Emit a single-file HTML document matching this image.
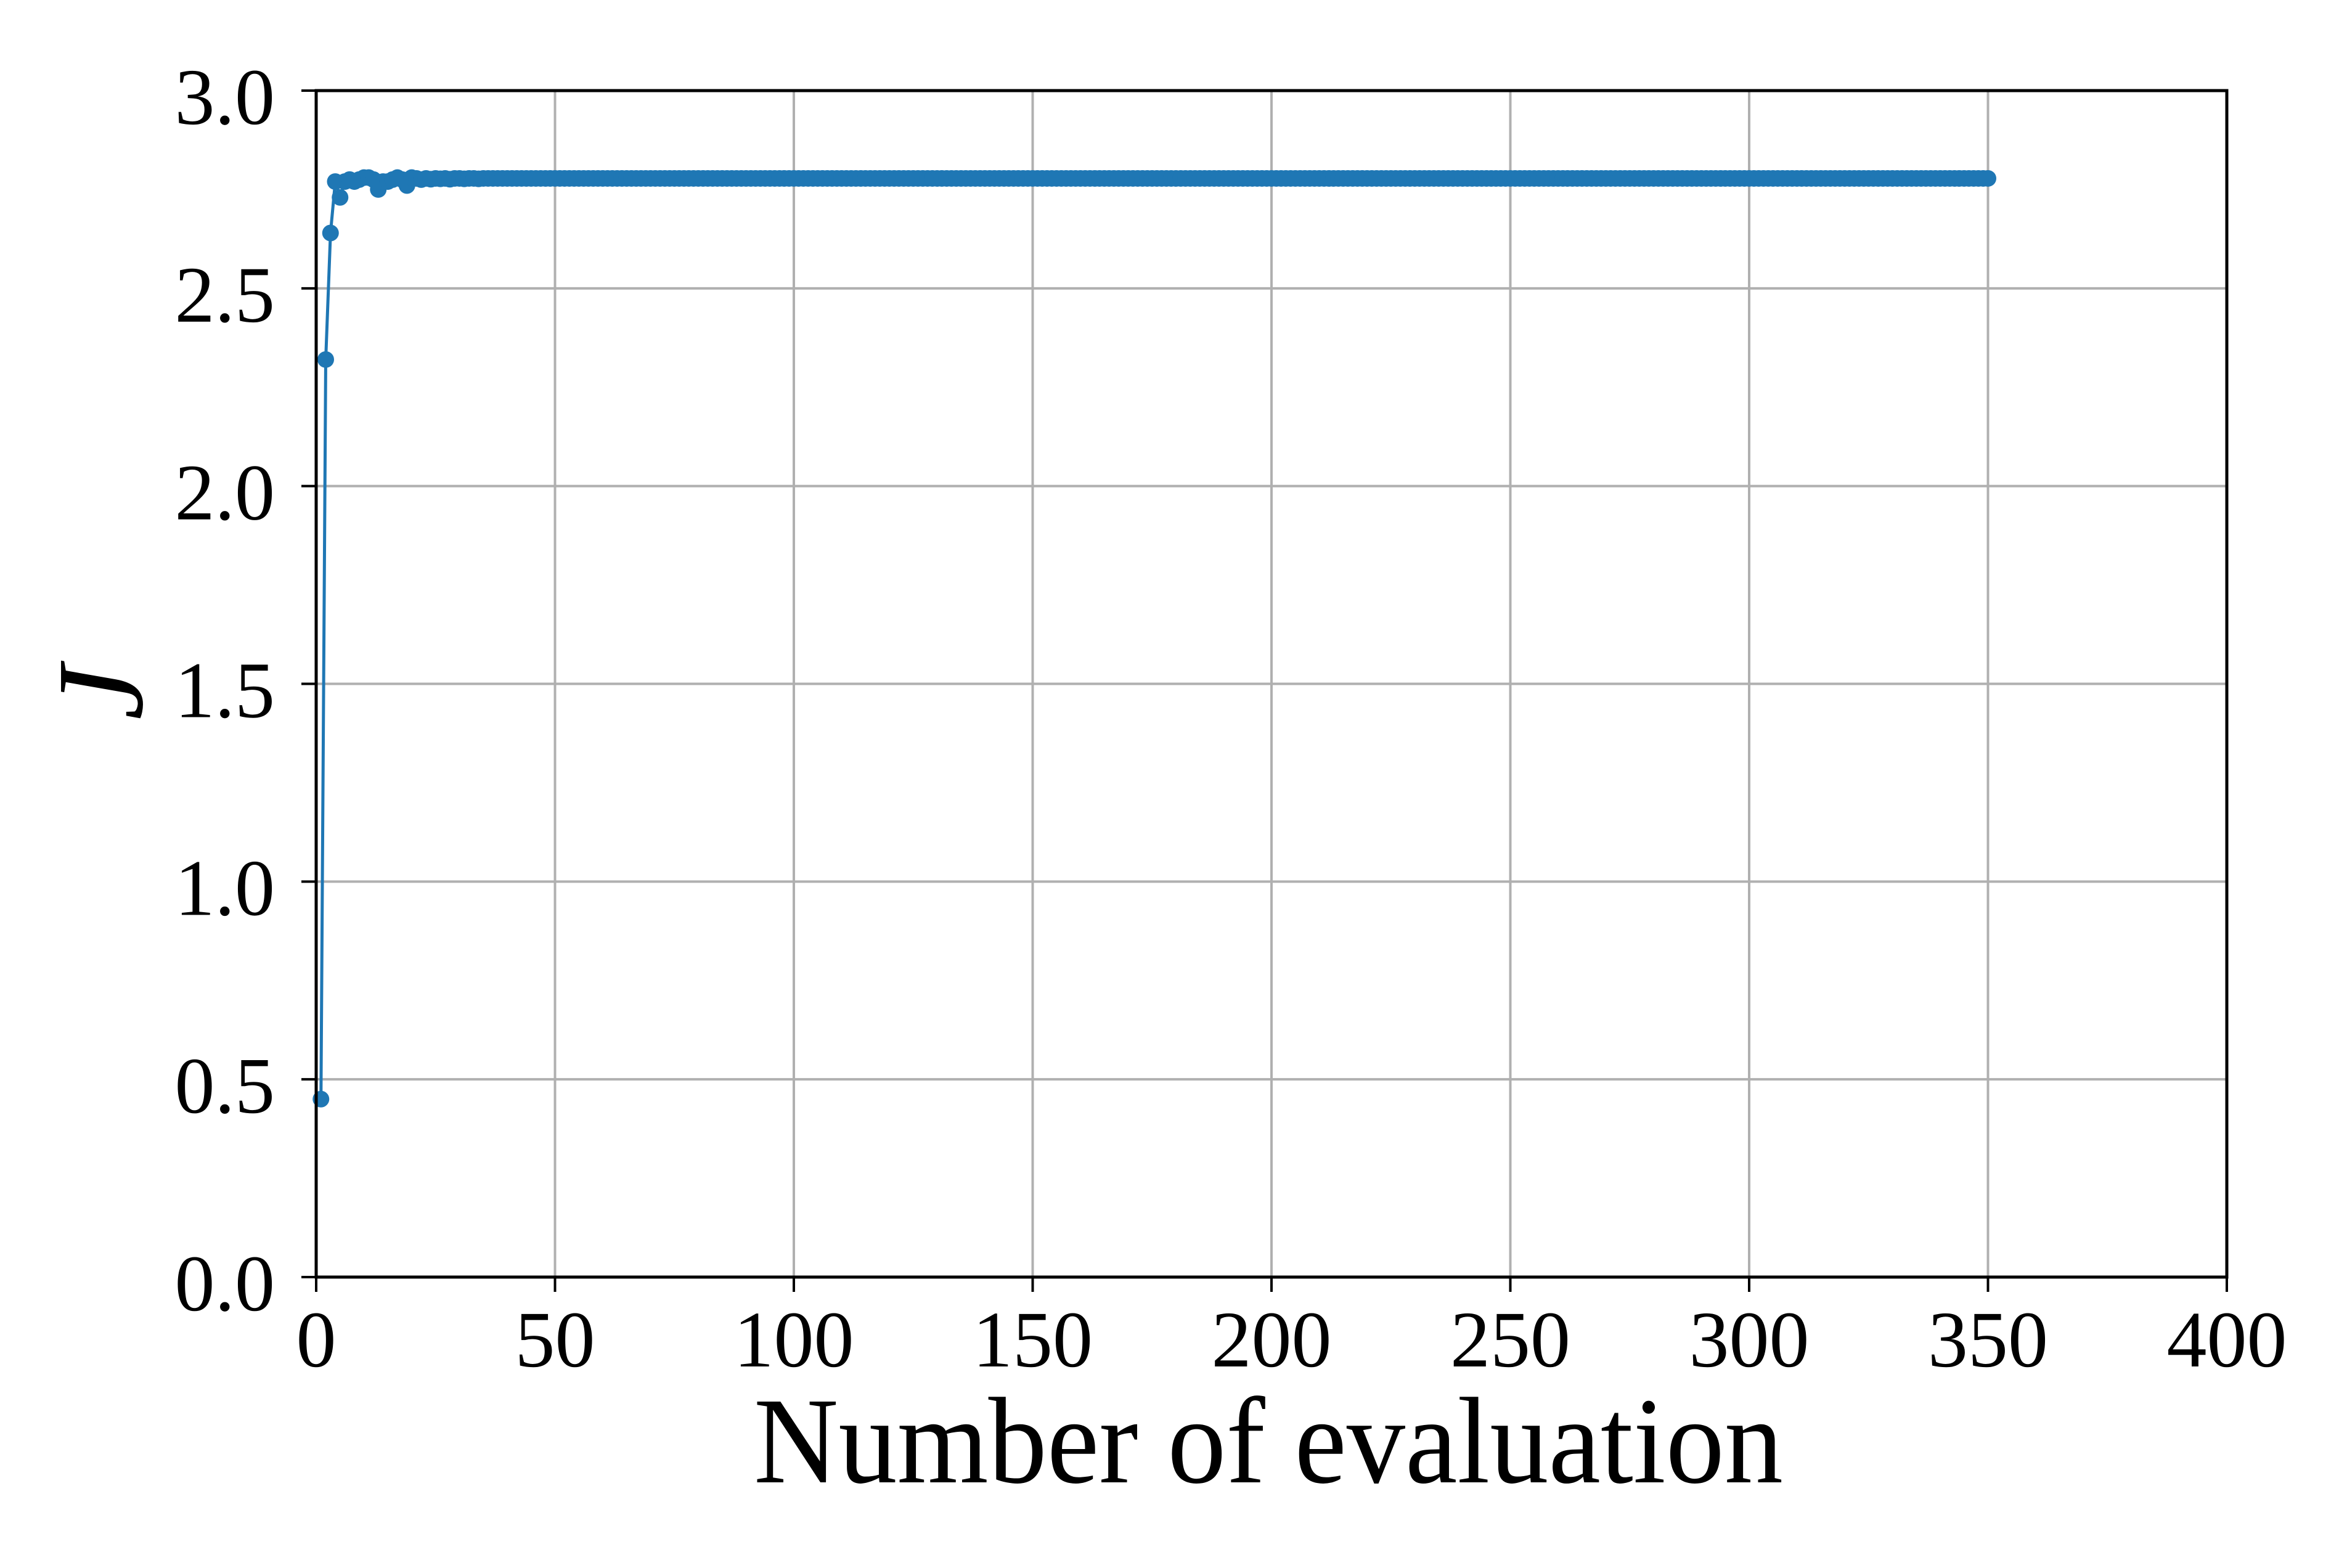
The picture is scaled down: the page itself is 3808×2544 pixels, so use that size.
<!DOCTYPE html>
<html><head><meta charset="utf-8">
<style>
html,body{margin:0;padding:0;background:#fff;}
svg{display:block;}
text{font-family:"Liberation Serif",serif;fill:#000;}
</style></head>
<body>
<svg id="chart" width="3808" height="2544" viewBox="0 0 3808 2544" xmlns="http://www.w3.org/2000/svg">
<rect width="3808" height="2544" fill="#fff"/>
<g id="grid"></g>
<g id="series"></g>
<g id="axes"></g>
<text id="xlabel" x="1223" y="2405" font-size="200" textLength="1670" lengthAdjust="spacingAndGlyphs">Number of evaluation</text>
<text id="ylabel" x="0" y="0" font-size="200" font-style="italic" transform="translate(230,1124) rotate(-90)" text-anchor="middle">J</text>
</svg>
<script>
const xTicks = [0, 50, 100, 150, 200, 250, 300, 350, 400];
const xTickLabels = ["0", "50", "100", "150", "200", "250", "300", "350", "400"];
const yTicks = [0, 0.5, 1.0, 1.5, 2.0, 2.5, 3.0];
const yTickLabels = ["0.0", "0.5", "1.0", "1.5", "2.0", "2.5", "3.0"];
const headValues = [0.45, 2.32, 2.64, 2.77, 2.73, 2.77, 2.775, 2.77, 2.775, 2.78,
  2.78, 2.775, 2.75, 2.77, 2.77, 2.775, 2.78, 2.775, 2.76, 2.78,
  2.778, 2.775, 2.778, 2.776, 2.778, 2.777, 2.778, 2.776, 2.778, 2.778,
  2.777, 2.778, 2.778, 2.777, 2.778];
const tailValues = [
2.778,2.778,2.778,2.778,2.778,2.778,2.778,2.778,2.778,2.778,2.778,2.778,2.778,2.778,2.778,2.778,2.778,2.778,2.778,2.778,
2.778,2.778,2.778,2.778,2.778,2.778,2.778,2.778,2.778,2.778,2.778,2.778,2.778,2.778,2.778,2.778,2.778,2.778,2.778,2.778,
2.778,2.778,2.778,2.778,2.778,2.778,2.778,2.778,2.778,2.778,2.778,2.778,2.778,2.778,2.778,2.778,2.778,2.778,2.778,2.778,
2.778,2.778,2.778,2.778,2.778,2.778,2.778,2.778,2.778,2.778,2.778,2.778,2.778,2.778,2.778,2.778,2.778,2.778,2.778,2.778,
2.778,2.778,2.778,2.778,2.778,2.778,2.778,2.778,2.778,2.778,2.778,2.778,2.778,2.778,2.778,2.778,2.778,2.778,2.778,2.778,
2.778,2.778,2.778,2.778,2.778,2.778,2.778,2.778,2.778,2.778,2.778,2.778,2.778,2.778,2.778,2.778,2.778,2.778,2.778,2.778,
2.778,2.778,2.778,2.778,2.778,2.778,2.778,2.778,2.778,2.778,2.778,2.778,2.778,2.778,2.778,2.778,2.778,2.778,2.778,2.778,
2.778,2.778,2.778,2.778,2.778,2.778,2.778,2.778,2.778,2.778,2.778,2.778,2.778,2.778,2.778,2.778,2.778,2.778,2.778,2.778,
2.778,2.778,2.778,2.778,2.778,2.778,2.778,2.778,2.778,2.778,2.778,2.778,2.778,2.778,2.778,2.778,2.778,2.778,2.778,2.778,
2.778,2.778,2.778,2.778,2.778,2.778,2.778,2.778,2.778,2.778,2.778,2.778,2.778,2.778,2.778,2.778,2.778,2.778,2.778,2.778,
2.778,2.778,2.778,2.778,2.778,2.778,2.778,2.778,2.778,2.778,2.778,2.778,2.778,2.778,2.778,2.778,2.778,2.778,2.778,2.778,
2.778,2.778,2.778,2.778,2.778,2.778,2.778,2.778,2.778,2.778,2.778,2.778,2.778,2.778,2.778,2.778,2.778,2.778,2.778,2.778,
2.778,2.778,2.778,2.778,2.778,2.778,2.778,2.778,2.778,2.778,2.778,2.778,2.778,2.778,2.778,2.778,2.778,2.778,2.778,2.778,
2.778,2.778,2.778,2.778,2.778,2.778,2.778,2.778,2.778,2.778,2.778,2.778,2.778,2.778,2.778,2.778,2.778,2.778,2.778,2.778,
2.778,2.778,2.778,2.778,2.778,2.778,2.778,2.778,2.778,2.778,2.778,2.778,2.778,2.778,2.778,2.778,2.778,2.778,2.778,2.778,
2.778,2.778,2.778,2.778,2.778,2.778,2.778,2.778,2.778,2.778,2.778,2.778,2.778,2.778,2.778];
const jValues = headValues.concat(tailValues);

const NS = "http://www.w3.org/2000/svg";
const L = 513, R = 3613, T = 147, B = 2072;
const xMin = 0, xMax = 400, yMin = 0, yMax = 3;
function xs(v){ return L + (v - xMin) / (xMax - xMin) * (R - L); }
function ys(v){ return B - (v - yMin) / (yMax - yMin) * (B - T); }
function mk(tag, attrs, parent){
  const e = document.createElementNS(NS, tag);
  for (const k in attrs) e.setAttribute(k, attrs[k]);
  parent.appendChild(e);
  return e;
}
const grid = document.getElementById('grid');
const axes = document.getElementById('axes');
const series = document.getElementById('series');

xTicks.forEach((t, i) => {
  const x = xs(t);
  const g = mk('line', {x1:x, x2:x, y1:T, y2:B, stroke:'#b0b0b0', 'stroke-width':4}, grid);
  
  
  const tk = mk('line', {x1:x, x2:x, y1:B, y2:B+24, stroke:'#000', 'stroke-width':4}, axes);
  
  
  const lb = mk('text', {x:x, y:2217, 'font-size':130, 'text-anchor':'middle'}, axes);
  lb.textContent = xTickLabels[i];
  
  
});
yTicks.forEach((t, i) => {
  const y = ys(t);
  const g = mk('line', {x1:L, x2:R, y1:y, y2:y, stroke:'#b0b0b0', 'stroke-width':4}, grid);
  
  
  const tk = mk('line', {x1:L-24, x2:L, y1:y, y2:y, stroke:'#000', 'stroke-width':4}, axes);
  
  
  const lb = mk('text', {x:446, y:y+54, 'font-size':130, 'text-anchor':'end'}, axes);
  lb.textContent = yTickLabels[i];
  
  
});
const frame = mk('rect', {x:L, y:T, width:R-L, height:B-T, fill:'none', stroke:'#000', 'stroke-width':5}, axes);



const pts = jValues.map((v, i) => xs(i + 1).toFixed(2) + ',' + ys(v).toFixed(2)).join(' ');
const line = mk('polyline', {points:pts, fill:'none', stroke:'#1f77b4', 'stroke-width':5, 'stroke-linejoin':'round'}, series);


jValues.forEach((v, i) => {
  const c = mk('circle', {cx:xs(i + 1), cy:ys(v), r:13.5, fill:'#1f77b4'}, series);
  
  
});
</script>
</body></html>
